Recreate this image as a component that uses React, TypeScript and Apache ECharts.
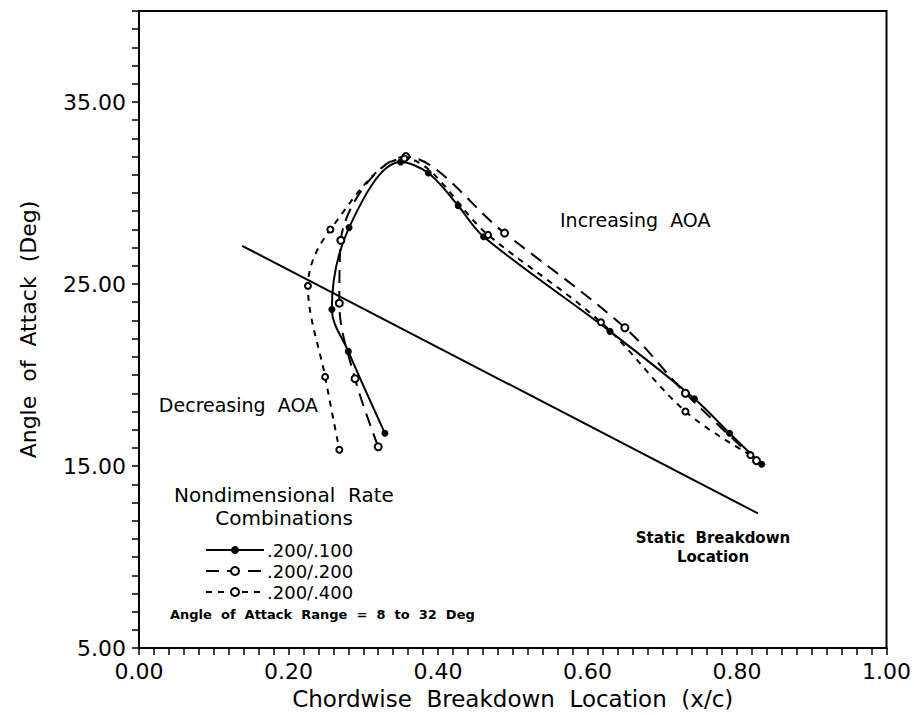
import React, { useEffect, useRef } from "react";
import * as echarts from "echarts";

// Static breakdown location (x/c, AoA deg)
const staticLine: number[][] = [
  [0.138, 27.1],
  [0.828, 12.4],
];

// Rate .200/.100 — increasing then decreasing AoA
const rate100: number[][] = [
  [0.833, 15.1], [0.79, 16.8], [0.743, 18.7], [0.63, 22.4], [0.461, 27.6],
  [0.427, 29.3], [0.387, 31.1], [0.35, 31.7], [0.281, 28.1], [0.258, 23.6],
  [0.28, 21.3], [0.329, 16.8],
];

// Rate .200/.200
const rate200: number[][] = [
  [0.826, 15.3], [0.731, 19.0], [0.65, 22.6], [0.489, 27.8], [0.357, 32.0],
  [0.27, 27.4], [0.268, 23.95], [0.289, 19.8], [0.32, 16.06],
];

// Rate .200/.400
const rate400: number[][] = [
  [0.818, 15.6], [0.731, 18.0], [0.618, 22.9], [0.467, 27.7], [0.355, 31.9],
  [0.256, 28.0], [0.226, 24.9], [0.249, 19.9], [0.268, 15.9],
];

const seriesNames = [".200/.100", ".200/.200", ".200/.400"];
const xLabelStep = 0.2;
const xTickStep = 0.02;
const yLabelStep = 10;
const yTickStep = 1;

const FONT = "DejaVu Sans";

export default function App() {
  const ref = useRef<HTMLDivElement>(null);
  useEffect(() => {
    if (!ref.current) return;
    const chart = echarts.init(ref.current, null, { renderer: "svg" });
    const black = "#000";
    const txt = (extra: any) => ({ fontFamily: FONT, fill: black, ...extra });
    chart.setOption({
      animation: false,
      backgroundColor: "#fff",
      grid: {
        show: true,
        left: 139,
        right: 24,
        top: 11,
        bottom: 65,
        borderColor: black,
        borderWidth: 2,
        backgroundColor: "transparent",
      },
      legend: {
        orient: "vertical",
        left: 200,
        top: 536,
        itemWidth: 58,
        itemHeight: 10,
        itemGap: 3,
        data: seriesNames,
        textStyle: { fontFamily: FONT, fontSize: 18, lineHeight: 18, color: black, padding: [0, 0, 0, -2] },
      },
      xAxis: [
        {
          type: "value",
          min: 0,
          max: 1,
          interval: xLabelStep,
          position: "bottom",
          axisLine: { lineStyle: { color: black, width: 2 } },
          axisTick: { show: false },
          splitLine: { show: false },
          axisLabel: {
            margin: 12,
            color: black,
            fontFamily: FONT,
            fontSize: 22,
            formatter: (v: number) => v.toFixed(2),
          },
          name: "Chordwise  Breakdown  Location  (x/c)",
          nameLocation: "middle",
          nameGap: 38,
          nameTextStyle: { fontFamily: FONT, fontSize: 23, color: black },
        },
        {
          type: "value",
          min: 0,
          max: 1,
          interval: xTickStep,
          position: "bottom",
          axisLine: { show: false },
          axisTick: { show: true, length: 7, lineStyle: { color: black, width: 1.5 } },
          axisLabel: { show: false },
          splitLine: { show: false },
        },
      ],
      yAxis: [
        {
          type: "value",
          min: 5,
          max: 40,
          interval: yLabelStep,
          position: "left",
          axisLine: { show: true, lineStyle: { color: black, width: 2 } },
          axisTick: { show: false },
          splitLine: { show: false },
          axisLabel: {
            margin: 13,
            color: black,
            fontFamily: FONT,
            fontSize: 22,
            showMaxLabel: false,
            formatter: (v: number) => v.toFixed(2),
          },
          name: "Angle  of  Attack  (Deg)",
          nameLocation: "middle",
          nameRotate: 90,
          nameGap: 100,
          nameTextStyle: { fontFamily: FONT, fontSize: 22, color: black },
        },
        {
          type: "value",
          min: 5,
          max: 40,
          interval: yTickStep,
          position: "left",
          axisLine: { show: false },
          axisTick: { show: true, length: 7, lineStyle: { color: black, width: 1.5 } },
          axisLabel: { show: false },
          splitLine: { show: false },
        },
      ],
      series: [
        {
          name: "static",
          type: "line",
          data: staticLine,
          symbol: "none",
          lineStyle: { color: black, width: 2 },
          silent: true,
        },
        {
          name: seriesNames[0],
          type: "line",
          data: rate100,
          smooth: 0.35,
          symbol: "circle",
          symbolSize: 7,
          itemStyle: { color: black },
          lineStyle: { color: black, width: 2 },
        },
        {
          name: seriesNames[1],
          type: "line",
          data: rate200,
          smooth: 0.35,
          symbol: "emptyCircle",
          symbolSize: 7,
          itemStyle: { color: black, borderColor: black, borderWidth: 1.8 },
          lineStyle: { color: black, width: 2, type: [13, 8] },
        },
        {
          name: seriesNames[2],
          type: "line",
          data: rate400,
          smooth: 0.35,
          symbol: "emptyCircle",
          symbolSize: 6,
          itemStyle: { color: black, borderColor: black, borderWidth: 1.8 },
          lineStyle: { color: black, width: 2, type: [6, 6] },
        },
      ],
      graphic: [
        {
          type: "text",
          x: 560,
          y: 220,
          style: txt({ text: "Increasing  AOA", fontSize: 19, align: "left", verticalAlign: "middle" }),
        },
        {
          type: "text",
          x: 318,
          y: 405,
          style: txt({ text: "Decreasing  AOA", fontSize: 19, align: "right", verticalAlign: "middle" }),
        },
        {
          type: "text",
          x: 713,
          y: 538,
          style: txt({
            text: "Static  Breakdown",
            fontSize: 15,
            fontWeight: "bold",
            align: "center",
            verticalAlign: "middle",
          }),
        },
        {
          type: "text",
          x: 713,
          y: 557,
          style: txt({
            text: "Location",
            fontSize: 15,
            fontWeight: "bold",
            align: "center",
            verticalAlign: "middle",
          }),
        },
        {
          type: "text",
          x: 284,
          y: 495,
          style: txt({ text: "Nondimensional  Rate", fontSize: 20, align: "center", verticalAlign: "middle" }),
        },
        {
          type: "text",
          x: 284,
          y: 518,
          style: txt({ text: "Combinations", fontSize: 20, align: "center", verticalAlign: "middle" }),
        },
        {
          type: "text",
          x: 170,
          y: 614,
          style: txt({
            text: "Angle  of  Attack  Range  =  8  to  32  Deg",
            fontSize: 13,
            fontWeight: "bold",
            align: "left",
            verticalAlign: "middle",
          }),
        },
      ],
    });
    return () => chart.dispose();
  }, []);
  return (
    <div
      ref={ref}
      style={{ position: "fixed", left: 0, top: 0, width: 914, height: 715, background: "#fff" }}
    />
  );
}
